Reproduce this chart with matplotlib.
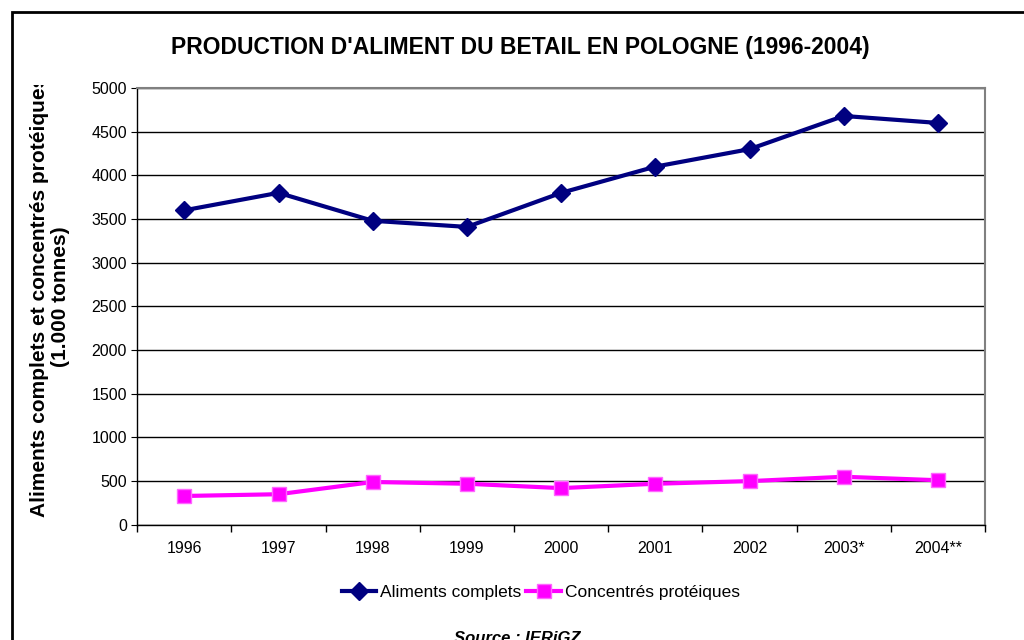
import matplotlib.pyplot as plt
import matplotlib.patches as patches
from matplotlib.transforms import Bbox
import numpy as np

plt.rcParams['font.family'] = ['Liberation Sans', 'DejaVu Sans']

years = ["1996", "1997", "1998", "1999", "2000", "2001", "2002", "2003*", "2004**"]
aliments = [3600, 3800, 3480, 3410, 3800, 4100, 4300, 4680, 4600]
concentres = [330, 350, 490, 470, 420, 470, 500, 550, 510]

fig = plt.figure(figsize=(10.24, 6.4), dpi=100)
ax = fig.add_axes([0.134, 0.180, 0.828, 0.6825])

x = np.arange(len(years))
ax.plot(x, aliments, color='#000080', lw=3, marker='D', markersize=9,
        label='Aliments complets', zorder=3)
ax.plot(x, concentres, color='#FF00FF', lw=3, marker='s', markersize=10,
        markeredgecolor='#FF66FF', markeredgewidth=1, label='Concentrés protéiques', zorder=3)

ax.set_ylim(0, 5000)
ax.set_yticks(np.arange(0, 5001, 500))
ax.set_xlim(-0.5, len(years) - 0.5)
ax.set_xticks(x)
ax.set_xticklabels(years)
ax.set_xticks(np.arange(-0.5, len(years)), minor=True)
ax.tick_params(axis='x', which='major', length=0, pad=12, labelsize=11.5)
ax.tick_params(axis='x', which='minor', length=5, direction='out', width=1)
ax.tick_params(axis='y', length=4, direction='out', labelsize=11.5)

ax.yaxis.grid(True, color='black', lw=1)
ax.set_axisbelow(True)
for s in ['top', 'right']:
    ax.spines[s].set_color('#808080')
    ax.spines[s].set_linewidth(1.5)
for s in ['left', 'bottom']:
    ax.spines[s].set_color('black')
    ax.spines[s].set_linewidth(1)

# y label, clipped at the top like the original
ylab = fig.text(0.049, 0.537, "Aliments complets et concentrés protéiques\n(1.000 tonnes)",
                rotation=90, ha='center', va='center', fontsize=15, fontweight='bold',
                multialignment='center', linespacing=1.1)
ylab.set_clip_box(Bbox.from_extents(0, 0, 1024, 640 - 85))
ylab.set_clip_on(True)

fig.text(0.508, 0.926, "PRODUCTION D'ALIMENT DU BETAIL EN POLOGNE (1996-2004)",
         ha='center', va='center', fontsize=16.5, fontweight='bold')

fig.legend(loc='center', bbox_to_anchor=(0.528, 0.074), ncol=2, frameon=False,
           fontsize=12.5, handlelength=2.0, columnspacing=0.3, handletextpad=0.2)

fig.text(0.505, 0.003, "Source : IERiGZ", ha='center', va='center',
         fontsize=12, fontweight='bold', style='italic')

frame = patches.Rectangle((12 / 1024, -0.1), 1.2, 1.1 - 12 / 640,
                          transform=fig.transFigure, fill=False,
                          edgecolor='black', lw=2, clip_on=False)
fig.patches.append(frame)

fig.savefig('out.png', dpi=100)
